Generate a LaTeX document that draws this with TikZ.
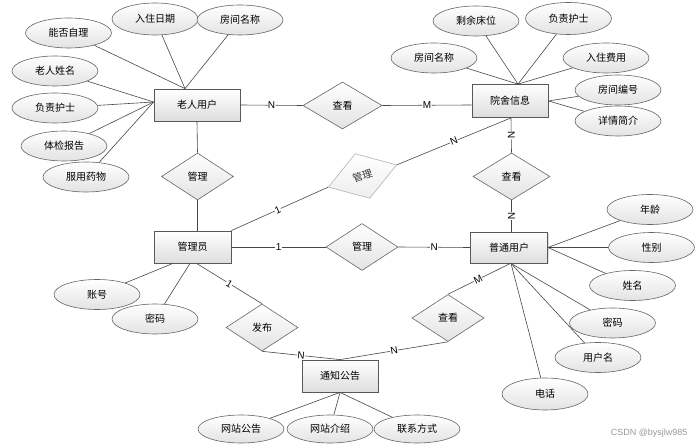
\documentclass[tikz,border=0pt]{standalone}
\usepackage{fontspec}
\setmainfont{Liberation Sans}
\newfontfamily\cjk{Noto Sans CJK SC}
\usetikzlibrary{shapes.geometric,shadows}
\begin{document}
\begin{tikzpicture}[x=1pt,y=-1pt,
  every node/.style={font=\cjk\fontsize{10}{12}\selectfont},
  ent/.style={rectangle, draw=black!65, line width=0.8pt, top color=white, bottom color=black!13,
    minimum width=77pt, minimum height=32pt, inner sep=0pt,
    drop shadow={shadow xshift=1pt, shadow yshift=-1pt, opacity=0.25}},
  attr/.style={ellipse, draw=black!60, line width=0.6pt, top color=white, bottom color=black!11,
    minimum width=86pt, minimum height=30pt, inner sep=0pt},
  rel/.style={diamond, draw=black!60, line width=0.6pt, top color=white, bottom color=black!11,
    minimum width=72pt, minimum height=47pt, inner sep=0pt},
  conn/.style={draw=black!72, line width=0.6pt},
  lab/.style={font=\fontsize{10}{11}\selectfont, fill=white, inner sep=0.4pt, sloped},
]
\fill[white] (0,0) rectangle (699,446);
\useasboundingbox (0,0) rectangle (699,446);

% entities
\node[ent, minimum width=86pt] (lr) at (197,105) {老人用户};
\node[ent, minimum width=76pt, minimum height=33pt] (ys) at (510,101) {院舍信息};
\node[ent] (gly) at (192.5,247) {管理员};
\node[ent, minimum height=31pt] (pt) at (509,247.5) {普通用户};
\node[ent, minimum width=76pt] (tz) at (340,376) {通知公告};

% relationships
\node[rel, minimum width=79pt] (ck1) at (342.5,105.5) {查看};
\node[rel] (gl1) at (197.5,176.5) {管理};
\node[rel, rotate=18, draw=black!30, bottom color=black!7, text=black!80] (gl2) at (362.5,176) {管理};
\node[rel, minimum width=77pt] (ck2) at (511.5,176.5) {查看};
\node[rel] (gl3) at (362,247) {管理};
\node[rel] (fb) at (262,327.5) {发布};
\node[rel] (ck3) at (448,318) {查看};

% attributes of 老人用户
\node[attr] (a1) at (68.5,33) {能否自理};
\node[attr, minimum height=32pt] (a2) at (155,19) {入住日期};
\node[attr] (a3) at (240,20) {房间名称};
\node[attr] (a4) at (55,71) {老人姓名};
\node[attr] (a5) at (55,108) {负责护士};
\node[attr] (a6) at (64,146) {体检报告};
\node[attr] (a7) at (86,177) {服用药物};
% attributes of 院舍信息
\node[attr] (b1) at (476,21) {剩余床位};
\node[attr, minimum height=32pt] (b2) at (568.5,18.5) {负责护士};
\node[attr] (b3) at (434,58) {房间名称};
\node[attr] (b4) at (606,58) {入住费用};
\node[attr] (b5) at (618,90) {房间编号};
\node[attr] (b6) at (618,121) {详情简介};
% attributes of 管理员
\node[attr] (c1) at (97,294.5) {账号};
\node[attr] (c2) at (155,319) {密码};
% attributes of 普通用户
\node[attr] (d1) at (650,209.5) {年龄};
\node[attr] (d2) at (651.5,247.5) {性别};
\node[attr] (d3) at (632.5,285.5) {姓名};
\node[attr] (d4) at (612.5,323) {密码};
\node[attr] (d5) at (598,357.5) {用户名};
\node[attr, minimum height=32pt] (d6) at (545,394) {电话};
% attributes of 通知公告
\node[attr, minimum height=28pt] (e1) at (241,429) {网站公告};
\node[attr, minimum height=28pt] (e2) at (330,429) {网站介绍};
\node[attr, minimum height=28pt] (e3) at (417,429) {联系方式};

% watermark
\node[font=\fontsize{9}{10}\selectfont, text=black!40, anchor=east] (wm) at (691,433) {CSDN @bysjlw985};

% attribute connectors
\foreach \a in {a1,a2,a3} \draw[conn] (\a) -- ([xshift=-12pt]lr.north);
\foreach \a in {a4,a5,a6,a7} \draw[conn] (\a) -- ([yshift=3pt]lr.west);
\foreach \a in {b1,b2,b3,b4} \draw[conn] (\a) -- ([xshift=8pt]ys.north);
\foreach \a in {b5,b6} \draw[conn] (\a) -- (ys.east);
\draw[conn] (c1) -- ([xshift=-19.5pt]gly.south);
\draw[conn] (c2) -- ([xshift=-2.5pt]gly.south);
\foreach \a in {d1,d2,d3} \draw[conn] (\a) -- (pt.east);
\foreach \a in {d4,d5,d6} \draw[conn] (\a) -- ([xshift=2pt]pt.south);
\foreach \a in {e1,e2,e3} \draw[conn] (\a) -- (tz.south);

% relationship connectors
\draw[conn] (lr.east) -- node[lab]{N} (ck1.west);
\draw[conn] (ck1.east) -- node[lab]{M} ([yshift=-4pt]ys.west);
\draw[conn] (lr.south) -- (gl1.north);
\draw[conn] (gl1.south) -- ([xshift=5pt]gly.north);
\draw[conn] (gly.north east) -- node[lab, pos=0.48]{1} (gl2.west);
\draw[conn] (gl2.east) -- node[lab]{N} ([xshift=1pt]ys.south);
\draw[conn] ([xshift=1pt]ys.south) -- node[lab]{N} (ck2.north);
\draw[conn] (ck2.south) -- node[lab]{N} ([xshift=2.5pt]pt.north);
\draw[conn] (gly.east) -- node[lab]{1} (gl3.west);
\draw[conn] (gl3.east) -- node[lab]{N} (pt.west);
\draw[conn] ([xshift=4pt]gly.south) -- node[lab]{1} (fb.north);
\draw[conn] (fb.south) -- node[lab]{N} (tz.north);
\draw[conn] (ck3.south) -- node[lab]{N} (tz.north);
\draw[conn] (ck3.north) -- node[lab, pos=0.48]{M} ([xshift=1.5pt]pt.south);
\end{tikzpicture}
\end{document}
